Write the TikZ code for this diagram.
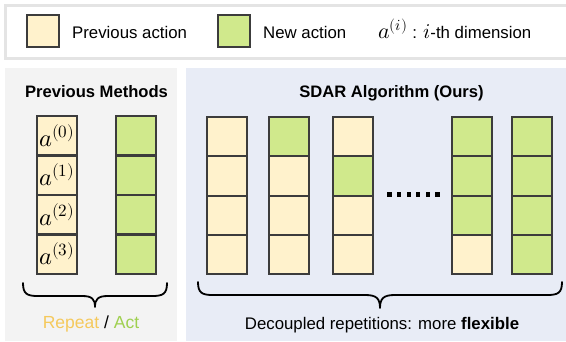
\documentclass[tikz,border=0pt]{standalone}
\usepackage{fontspec}
\usepackage{unicode-math}
\setmainfont{Liberation Sans}
\setmathfont{Latin Modern Math}
\definecolor{prevc}{HTML}{FFF2CC}
\definecolor{newc}{HTML}{D0E98C}
\definecolor{cellb}{HTML}{3C3C3C}
\definecolor{leftbg}{HTML}{F3F3F3}
\definecolor{rightbg}{HTML}{E8ECF6}
\definecolor{legb}{HTML}{E4E4E4}
\definecolor{repc}{HTML}{F5C95C}
\definecolor{actc}{HTML}{9FD050}
\tikzset{
  cell/.style={draw=cellb, line width=2pt, minimum width=40pt, minimum height=39.3pt, inner sep=0pt, anchor=north},
  pcell/.style={cell, fill=prevc},
  ncell/.style={cell, fill=newc},
  legsq/.style={draw=cellb, line width=2pt, minimum width=32pt, minimum height=32pt, inner sep=0pt},
  legtxt/.style={font=\fontsize{16.8}{18}\selectfont, anchor=west, inner sep=0pt},
  title/.style={font=\fontsize{16.6}{18}\selectfont\bfseries, inner sep=0pt},
  brace/.style={line width=1.8pt, black, line cap=round, line join=round},
  dot/.style={fill=black, minimum size=4.2pt, inner sep=0pt},
  mathlab/.style={font=\fontsize{24.5}{26}\selectfont}
}
\begin{document}
\begin{tikzpicture}[x=1pt,y=-1pt]
\useasboundingbox (0,0) rectangle (566,341);
% legend
\draw[legb, line width=3pt, fill=white] (5.5,5.5) rectangle (575,58.5);
\node[legsq, fill=prevc] (lp) at (43,31) {};
\node[legtxt] (lpt) at (72,32) {Previous action};
\node[legsq, fill=newc] (ln) at (234,31) {};
\node[legtxt] (lnt) at (263,32) {New action};
\node[legtxt, anchor=base west] (lat) at (378,38) {{\fontsize{22}{24}\selectfont$a^{(i)}$} : {\fontsize{21}{23}\selectfont$i$}-th dimension};
% panels
\fill[leftbg] (5,68) rectangle (177,341);
\fill[rightbg] (186,68) rectangle (575,341);
\node[title] (t1) at (96.5,92) {Previous Methods};
\node[title] (t2) at (391.5,93) {SDAR Algorithm (Ours)};
% left columns
\foreach \i in {0,1,2,3} {
  \node[pcell, mathlab] (L\i) at (57,115+39.5*\i) {$a^{(\i)}$};
  \node[ncell] (N\i) at (135.5,115+39.5*\i) {};
}
% right columns
\foreach \c/\x/\pat in {1/227/{p,p,p,p}, 2/289/{n,p,p,p}, 3/353/{p,n,p,p}, 4/472/{n,n,n,p}, 5/532/{n,n,n,n}} {
  \foreach \k [count=\j from 0] in \pat {
    \node[\k cell] (R\c-\j) at (\x,116+39.25*\j) {};
  }
}
% dots
\foreach \d in {0,...,5} {
  \node[dot] (dot\d) at (389.5+9.6*\d,194.5) {};
}
% braces
\draw[brace] (23,283) .. controls (23,294) and (27,296) .. (38,296) -- (82,296)
  .. controls (92,296) and (95,299) .. (95,307)
  .. controls (95,299) and (98,296) .. (108,296) -- (152,296)
  .. controls (163,296) and (167,294) .. (167,283);
\draw[brace] (198,282) .. controls (198,293) and (202,295) .. (213,295) -- (365,295)
  .. controls (376,295) and (380,298) .. (380,308)
  .. controls (380,298) and (384,295) .. (395,295) -- (547,295)
  .. controls (558,295) and (562,293) .. (562,282);
\node[font=\fontsize{17.5}{19}\selectfont, inner sep=0pt] (rl) at (91,324) {\textcolor{repc}{Repeat} / \textcolor{actc}{Act}};
\node[font=\fontsize{16.8}{18}\selectfont, inner sep=0pt] (dl) at (382,325) {Decoupled repetitions: more \textbf{flexible}};
\end{tikzpicture}
\end{document}
